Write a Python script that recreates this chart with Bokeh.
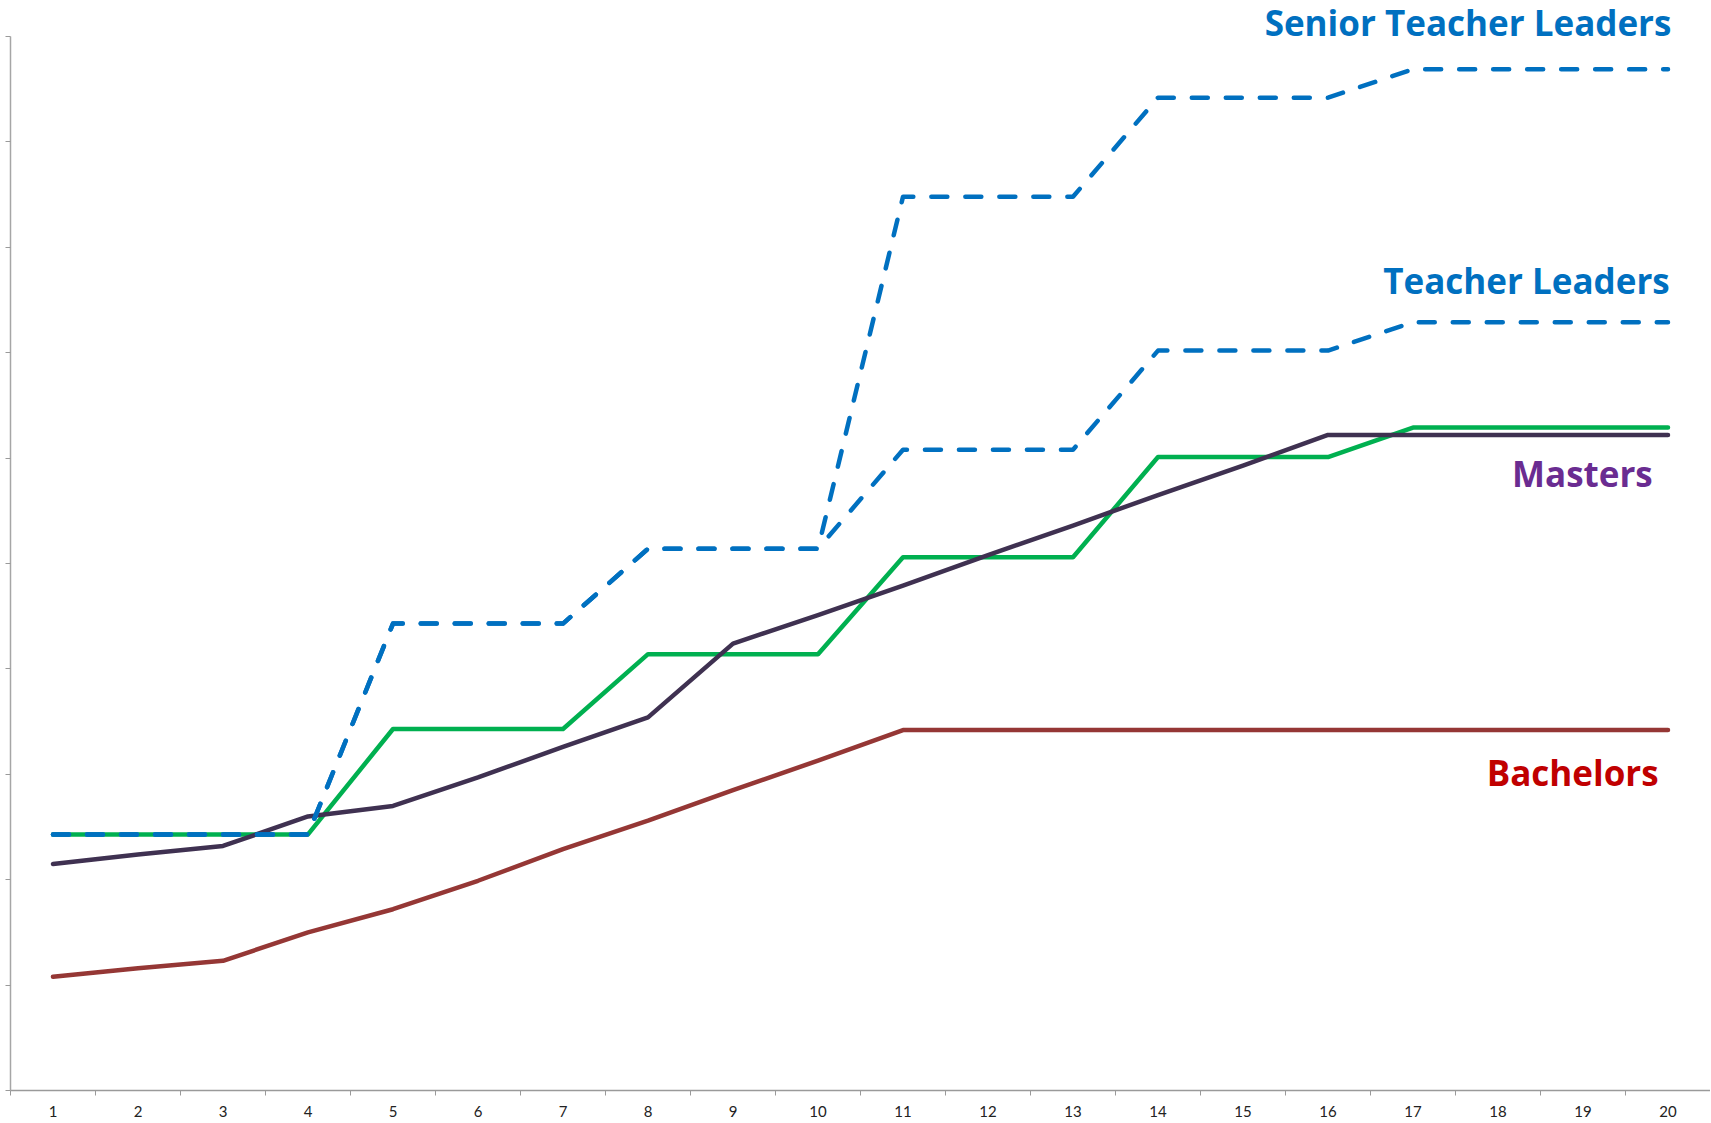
from bokeh.plotting import figure
from bokeh.models import Range1d, FixedTicker
from bokeh.core.properties import value
from bokeh.embed import file_html
from bokeh.resources import INLINE

# ---- data ----
years = list(range(1, 21))
year_labels = [str(y) for y in years]
bachelors = [1.08, 1.16, 1.23, 1.50, 1.72, 1.99, 2.29, 2.56, 2.85, 3.13, 3.42,
             3.42, 3.42, 3.42, 3.42, 3.42, 3.42, 3.42, 3.42, 3.42]
masters = [2.15, 2.24, 2.32, 2.60, 2.70, 2.97, 3.26, 3.54, 4.24, 4.51, 4.79,
           5.08, 5.36, 5.65, 5.93, 6.22, 6.22, 6.22, 6.22, 6.22]
teachers = [2.43, 2.43, 2.43, 2.43, 3.43, 3.43, 3.43, 4.14, 4.14, 4.14, 5.06,
            5.06, 5.06, 6.01, 6.01, 6.01, 6.29, 6.29, 6.29, 6.29]
teacher_leaders = [2.43, 2.43, 2.43, 2.43, 4.43, 4.43, 4.43, 5.14, 5.14, 5.14, 6.08,
                   6.08, 6.08, 7.02, 7.02, 7.02, 7.29, 7.29, 7.29, 7.29]
senior_leaders = [2.43, 2.43, 2.43, 2.43, 4.43, 4.43, 4.43, 5.14, 5.14, 5.14, 8.48,
                  8.48, 8.48, 9.42, 9.42, 9.42, 9.69, 9.69, 9.69, 9.69]
y_ticks = list(range(0, 11))
series_names = ["Senior Teacher Leaders", "Teacher Leaders", "Masters", "Bachelors"]

BLUE = "#0070C0"
GREEN = "#00B050"
DARK = "#3F3151"
BROWN = "#953735"

p = figure(frame_width=1700, frame_height=1090,
           x_range=Range1d(0.5, 20.5), y_range=Range1d(0, 10.342),
           output_backend="svg", toolbar_location=None,
           min_border_left=10, min_border_right=0, min_border_top=0, min_border_bottom=0)
p.outline_line_color = None
p.xgrid.visible = False
p.ygrid.visible = False
p.background_fill_color = "white"
p.border_fill_color = "white"

# x axis: labels at category centres, ticks at category boundaries
xa = p.xaxis[0]
xa.ticker = FixedTicker(ticks=years, minor_ticks=[y - 0.5 for y in years] + [20.5])
xa.major_label_overrides = {y: l for y, l in zip(years, year_labels)}
xa.major_tick_in = 0
xa.major_tick_out = 0
xa.minor_tick_in = 0
xa.minor_tick_out = 5
xa.minor_tick_line_color = "#9A9A9A"
xa.axis_line_color = "#9A9A9A"
xa.axis_line_width = 1.5
xa.major_label_standoff = 10
xa.major_label_text_font = "Lato"
xa.major_label_text_font_size = "15px"
xa.major_label_text_color = "#222222"

ya = p.yaxis[0]
ya.ticker = FixedTicker(ticks=y_ticks)
ya.bounds = (0, 10)
ya.major_tick_in = 0
ya.major_tick_out = 5
ya.minor_tick_out = 0
ya.minor_tick_in = 0
ya.major_tick_line_color = "#9A9A9A"
ya.axis_line_color = "#A6A6A6"
ya.axis_line_width = 1.5
ya.major_label_overrides = {t: "" for t in y_ticks}
ya.major_label_standoff = 0

lw = 4.5
p.line(years, bachelors, line_color=BROWN, line_width=lw, line_cap="round", line_join="round")
p.line(years, teachers, line_color=GREEN, line_width=lw, line_cap="round", line_join="round")
p.line(years, masters, line_color=DARK, line_width=lw, line_cap="round", line_join="round")
p.line(years, teacher_leaders, line_color=BLUE, line_width=lw, line_dash="16 18",
       line_cap="round", line_join="round")
p.line(years, senior_leaders, line_color=BLUE, line_width=lw, line_dash="16 18",
       line_cap="round", line_join="round")

# series labels, anchored to each line's final value
last = len(years) - 1
label_x = [years[last] + 0.04, years[last] + 0.02, years[last] - 0.18, years[last] - 0.11]
label_y = [senior_leaders[last] + 0.44, teacher_leaders[last] + 0.40,
           masters[last] - 0.37, bachelors[last] - 0.40]
label_colors = [BLUE, BLUE, "#6A2C91", "#C00000"]
p.text(x=label_x, y=label_y, text=series_names, text_color=label_colors,
       text_align="right", text_baseline="middle",
       text_font=value("Open Sans"), text_font_style="bold", text_font_size="35px")

open("out.html", "w").write(file_html(p, INLINE))
